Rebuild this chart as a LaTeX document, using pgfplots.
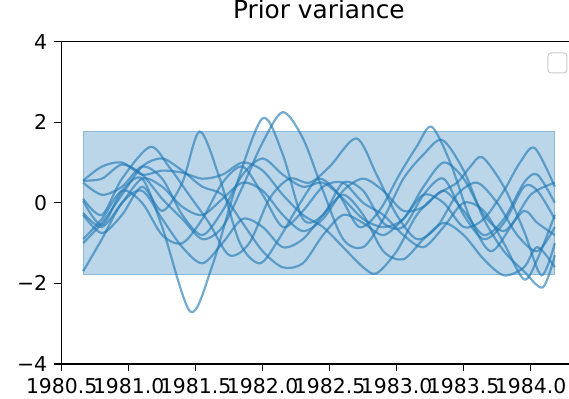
\documentclass[border=0pt]{standalone}
\usepackage{pgfplots}
\pgfplotsset{compat=1.18}
\usepackage{fontspec}
\setmainfont{DejaVu Sans}
\definecolor{C0}{RGB}{31,119,180}
\tikzset{gp/.style={draw=C0, draw opacity=0.62, line width=1.1pt, smooth, no marks}}
\begin{document}
\begin{tikzpicture}
\begin{axis}[
 scale only axis, width=253.65pt, height=161.15pt,
 xmin=1980.5, xmax=1984.286, ymin=-4, ymax=4,
 axis x line*=bottom, axis y line*=left, axis line style={-, line width=0.6pt},
 tick align=outside, major tick length=3.75pt, tick style={line width=0.6pt, black},
 xtick={1980.5,1981,1981.5,1982,1982.5,1983,1983.5,1984},
 xticklabels={1980.5,1981.0,1981.5,1982.0,1982.5,1983.0,1983.5,1984.0},
 ytick={-4,-2,0,2,4}, yticklabels={−4,−2,0,2,4},
 ticklabel style={font=\fontsize{10.2}{12}\selectfont},
 title={Prior variance},
 title style={font=\fontsize{12.4}{14}\selectfont, at={(axis description cs:0.507,1)}, anchor=base, yshift=5.35pt},
 clip=false,
]
\addplot[fill=C0, fill opacity=0.3, draw=C0, draw opacity=0.3, sharp plot, no marks] coordinates {(1980.66,-1.78)(1984.18,-1.78)(1984.18,1.78)(1980.66,1.78)} -- cycle;
\addplot[gp] coordinates {(1980.66,0.05)(1980.8,-0.55)(1980.95,0.3)(1981.1,0.6)(1981.25,-0.6)(1981.46,-2.7)(1981.62,-1.6)(1981.8,0.4)(1982.0,2.1)(1982.15,1.2)(1982.3,-0.4)(1982.45,-0.3)(1982.6,0.5)(1982.75,0.3)(1982.9,-0.5)(1983.05,-0.6)(1983.2,0.2)(1983.35,0.6)(1983.5,-0.3)(1983.65,-0.9)(1983.8,-0.5)(1983.95,0.4)(1984.05,0.3)(1984.18,-0.4)};
\addplot[gp] coordinates {(1980.66,0.55)(1980.8,0.6)(1980.95,0.95)(1981.1,0.7)(1981.25,0.1)(1981.4,-0.4)(1981.55,-0.9)(1981.7,-0.6)(1981.85,0.4)(1982.0,1.5)(1982.15,2.25)(1982.3,1.6)(1982.45,0.3)(1982.6,-0.9)(1982.75,-1.1)(1982.9,-0.4)(1983.05,0.6)(1983.2,1.2)(1983.34,1.56)(1983.5,0.8)(1983.65,-0.4)(1983.8,-1.2)(1983.95,-1.7)(1984.09,-2.1)(1984.18,-1.3)};
\addplot[gp] coordinates {(1980.66,-0.3)(1980.8,-0.75)(1980.95,-0.3)(1981.1,0.4)(1981.25,-0.2)(1981.4,0.5)(1981.53,1.77)(1981.68,0.6)(1981.83,-1.0)(1981.98,-1.5)(1982.12,-0.9)(1982.28,0.0)(1982.42,0.6)(1982.57,0.2)(1982.72,-0.6)(1982.87,-0.2)(1983.02,0.7)(1983.15,1.4)(1983.26,1.89)(1983.4,1.0)(1983.55,-0.4)(1983.7,-1.2)(1983.85,-0.6)(1984.0,0.2)(1984.18,0.5)};
\addplot[gp] coordinates {(1980.66,0.1)(1980.8,-0.3)(1980.95,0.6)(1981.16,1.39)(1981.3,0.9)(1981.45,0.2)(1981.6,-0.5)(1981.75,-1.3)(1981.9,-1.0)(1982.05,0.1)(1982.2,0.6)(1982.35,0.5)(1982.5,0.9)(1982.7,1.6)(1982.85,0.7)(1983.0,-0.3)(1983.15,-0.9)(1983.3,-0.6)(1983.45,0.2)(1983.6,0.5)(1983.75,0.0)(1983.9,-0.8)(1984.05,-1.2)(1984.18,-0.6)};
\addplot[gp] coordinates {(1980.66,-1.0)(1980.8,-0.5)(1980.95,0.2)(1981.1,0.9)(1981.25,1.1)(1981.4,0.8)(1981.55,0.4)(1981.7,0.2)(1981.85,-0.5)(1982.0,-1.2)(1982.15,-1.6)(1982.3,-1.5)(1982.45,-0.8)(1982.6,-0.3)(1982.75,-0.5)(1982.9,-0.8)(1983.05,-0.4)(1983.2,0.2)(1983.35,0.0)(1983.5,-0.6)(1983.65,-0.4)(1983.8,0.3)(1983.92,1.0)(1984.03,1.36)(1984.18,0.4)};
\addplot[gp] coordinates {(1980.66,0.55)(1980.8,0.9)(1980.95,1.0)(1981.1,0.7)(1981.25,0.8)(1981.4,0.75)(1981.55,0.6)(1981.7,0.7)(1981.85,1.0)(1982.0,0.8)(1982.15,0.2)(1982.3,-0.3)(1982.45,-0.6)(1982.6,-1.1)(1982.75,-1.6)(1982.85,-1.75)(1983.0,-1.2)(1983.15,-0.3)(1983.3,0.2)(1983.45,0.5)(1983.55,0.9)(1983.64,1.13)(1983.8,0.4)(1983.95,-0.7)(1984.08,-1.8)(1984.18,-1.0)};
\addplot[gp] coordinates {(1980.66,-0.25)(1980.8,-0.6)(1980.95,0.0)(1981.1,0.6)(1981.25,0.4)(1981.4,-0.1)(1981.55,-0.3)(1981.7,0.1)(1981.85,0.5)(1982.0,0.3)(1982.15,-0.3)(1982.3,-0.7)(1982.45,-0.4)(1982.6,0.3)(1982.75,0.6)(1982.9,0.3)(1983.05,-0.2)(1983.2,-0.1)(1983.35,0.3)(1983.5,-0.2)(1983.65,-0.8)(1983.8,-0.4)(1983.95,0.5)(1984.05,0.7)(1984.18,0.0)};
\addplot[gp] coordinates {(1980.66,-1.7)(1980.8,-0.9)(1980.95,0.0)(1981.1,0.3)(1981.25,-0.4)(1981.4,-1.1)(1981.55,-1.5)(1981.7,-1.0)(1981.85,-0.4)(1982.0,-0.6)(1982.15,-1.1)(1982.3,-0.9)(1982.45,-0.3)(1982.6,0.2)(1982.75,-0.3)(1982.9,-1.2)(1983.05,-1.4)(1983.2,-0.9)(1983.35,-0.5)(1983.5,-0.8)(1983.65,-1.4)(1983.8,-1.8)(1983.95,-1.6)(1984.05,-1.1)(1984.18,-1.6)};
\addplot[gp] coordinates {(1980.66,0.5)(1980.8,0.2)(1980.95,0.4)(1981.1,0.9)(1981.25,0.6)(1981.4,-0.3)(1981.55,-0.8)(1981.7,-0.2)(1981.85,0.7)(1982.0,1.1)(1982.15,0.7)(1982.3,0.4)(1982.45,0.5)(1982.6,0.1)(1982.75,-0.4)(1982.9,-0.6)(1983.05,-0.4)(1983.2,0.4)(1983.35,1.0)(1983.5,0.6)(1983.65,-0.3)(1983.8,-0.7)(1983.95,-0.2)(1984.05,-0.5)(1984.18,-0.8)};
\addplot[gp] coordinates {(1980.66,-0.9)(1980.8,-0.4)(1980.95,0.3)(1981.1,0.0)(1981.25,-0.8)(1981.4,-1.0)(1981.55,-0.4)(1981.7,0.5)(1981.85,0.9)(1982.0,0.2)(1982.15,-0.6)(1982.3,-0.2)(1982.45,0.4)(1982.6,0.5)(1982.75,0.0)(1982.9,-0.3)(1983.05,-0.8)(1983.2,-1.1)(1983.35,-0.6)(1983.5,0.0)(1983.65,-0.2)(1983.8,-1.0)(1983.95,-1.9)(1984.05,-1.4)(1984.18,-0.3)};
\draw[line width=0.6pt] (rel axis cs:0,1) -- (rel axis cs:1,1);
\draw[rounded corners=1.5pt, draw=black!20, fill=white, fill opacity=0.8, line width=0.5pt] (axis description cs:0.9586,0.965) rectangle (axis description cs:0.996,0.903);
\end{axis}
\path (current axis.south west) ++(-30.85pt,-17.5pt) coordinate (bl);
\path (current axis.north east) ++(0pt,20.85pt) coordinate (tr);
\pgfresetboundingbox
\path (bl) rectangle (tr);
\end{tikzpicture}
\end{document}
